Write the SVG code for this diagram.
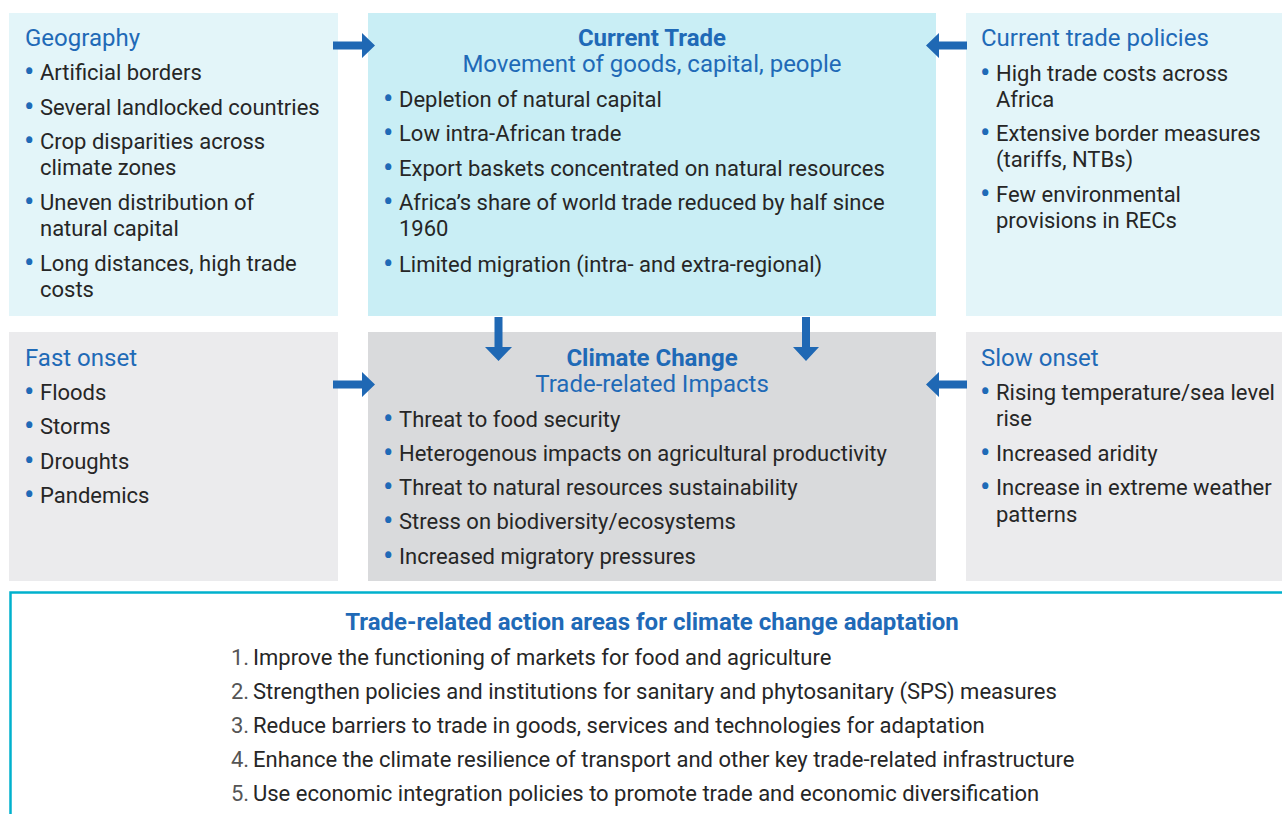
<svg xmlns="http://www.w3.org/2000/svg" width="1282" height="814" viewBox="0 0 1282 814">
<style>
text{font-family:Roboto,"Liberation Sans",sans-serif;}
.t{fill:#1f6ab7;font-size:24px;}
.tb{fill:#1f6ab7;font-size:24px;font-weight:bold;}
.b{fill:#262626;font-size:22px;}
.d{fill:#1f6ab7;font-size:31px;}
.n{fill:#3a3a3a;font-size:22px;}
.arr{fill:#1f68b4;}
</style>
<rect width="1282" height="814" fill="#ffffff"/>

<g id="geography">
<rect x="9" y="13" width="329" height="303" fill="#e3f5f9"/>
<text class="t" x="25" y="46">Geography</text>
<text class="b"><tspan class="d" x="24" y="82">•</tspan><tspan x="40" y="80">Artificial borders</tspan></text>
<text class="b"><tspan class="d" x="24" y="117">•</tspan><tspan x="40" y="115">Several landlocked countries</tspan></text>
<text class="b"><tspan class="d" x="24" y="151">•</tspan><tspan x="40" y="149">Crop disparities across</tspan><tspan x="40" y="175">climate zones</tspan></text>
<text class="b"><tspan class="d" x="24" y="212">•</tspan><tspan x="40" y="210">Uneven distribution of</tspan><tspan x="40" y="236">natural capital</tspan></text>
<text class="b"><tspan class="d" x="24" y="273">•</tspan><tspan x="40" y="271">Long distances, high trade</tspan><tspan x="40" y="297">costs</tspan></text>
</g>

<g id="current-trade">
<rect x="368" y="13" width="568" height="303" fill="#c9eef5"/>
<text class="tb" x="652" y="46" text-anchor="middle">Current Trade</text>
<text class="t" x="652" y="72" text-anchor="middle">Movement of goods, capital, people</text>
<text class="b"><tspan class="d" x="383" y="109">•</tspan><tspan x="399" y="107">Depletion of natural capital</tspan></text>
<text class="b"><tspan class="d" x="383" y="143">•</tspan><tspan x="399" y="141">Low intra-African trade</tspan></text>
<text class="b"><tspan class="d" x="383" y="178">•</tspan><tspan x="399" y="176">Export baskets concentrated on natural resources</tspan></text>
<text class="b"><tspan class="d" x="383" y="212">•</tspan><tspan x="399" y="210">Africa’s share of world trade reduced by half since</tspan><tspan x="399" y="236">1960</tspan></text>
<text class="b"><tspan class="d" x="383" y="274">•</tspan><tspan x="399" y="272">Limited migration (intra- and extra-regional)</tspan></text>
</g>

<g id="current-trade-policies">
<rect x="966" y="13" width="316" height="303" fill="#e3f5f9"/>
<text class="t" x="981" y="46">Current trade policies</text>
<text class="b"><tspan class="d" x="980" y="83">•</tspan><tspan x="996" y="81">High trade costs across</tspan><tspan x="996" y="107">Africa</tspan></text>
<text class="b"><tspan class="d" x="980" y="143">•</tspan><tspan x="996" y="141">Extensive border measures</tspan><tspan x="996" y="167">(tariffs, NTBs)</tspan></text>
<text class="b"><tspan class="d" x="980" y="204">•</tspan><tspan x="996" y="202">Few environmental</tspan><tspan x="996" y="228">provisions in RECs</tspan></text>
</g>

<g id="fast-onset">
<rect x="9" y="332" width="329" height="249" fill="#ebebed"/>
<text class="t" x="25" y="366">Fast onset</text>
<text class="b"><tspan class="d" x="24" y="402">•</tspan><tspan x="40" y="400">Floods</tspan></text>
<text class="b"><tspan class="d" x="24" y="436">•</tspan><tspan x="40" y="434">Storms</tspan></text>
<text class="b"><tspan class="d" x="24" y="471">•</tspan><tspan x="40" y="469">Droughts</tspan></text>
<text class="b"><tspan class="d" x="24" y="505">•</tspan><tspan x="40" y="503">Pandemics</tspan></text>
</g>

<g id="climate-change">
<rect x="368" y="332" width="568" height="249" fill="#d9dadc"/>
<text class="tb" x="652" y="366" text-anchor="middle">Climate Change</text>
<text class="t" x="652" y="392" text-anchor="middle">Trade-related Impacts</text>
<text class="b"><tspan class="d" x="383" y="429">•</tspan><tspan x="399" y="427">Threat to food security</tspan></text>
<text class="b"><tspan class="d" x="383" y="463">•</tspan><tspan x="399" y="461">Heterogenous impacts on agricultural productivity</tspan></text>
<text class="b"><tspan class="d" x="383" y="497">•</tspan><tspan x="399" y="495">Threat to natural resources sustainability</tspan></text>
<text class="b"><tspan class="d" x="383" y="531">•</tspan><tspan x="399" y="529">Stress on biodiversity/ecosystems</tspan></text>
<text class="b"><tspan class="d" x="383" y="566">•</tspan><tspan x="399" y="564">Increased migratory pressures</tspan></text>
</g>

<g id="slow-onset">
<rect x="966" y="332" width="316" height="249" fill="#ebebed"/>
<text class="t" x="981" y="366">Slow onset</text>
<text class="b"><tspan class="d" x="980" y="402">•</tspan><tspan x="996" y="400">Rising temperature/sea level</tspan><tspan x="996" y="426">rise</tspan></text>
<text class="b"><tspan class="d" x="980" y="463">•</tspan><tspan x="996" y="461">Increased aridity</tspan></text>
<text class="b"><tspan class="d" x="980" y="497">•</tspan><tspan x="996" y="495">Increase in extreme weather</tspan><tspan x="996" y="522">patterns</tspan></text>
</g>

<g id="action-areas">
<rect x="10.5" y="592.5" width="1290" height="240" fill="#ffffff" stroke="#00b1cd" stroke-width="2.5"/>
<text class="tb" x="652" y="630" text-anchor="middle">Trade-related action areas for climate change adaptation</text>
<text class="n"><tspan x="231" y="665" fill="#555">1.</tspan><tspan x="253" y="665" fill="#262626">Improve the functioning of markets for food and agriculture</tspan></text>
<text class="n"><tspan x="231" y="699" fill="#555">2.</tspan><tspan x="253" y="699" fill="#262626">Strengthen policies and institutions for sanitary and phytosanitary (SPS) measures</tspan></text>
<text class="n"><tspan x="231" y="733" fill="#555">3.</tspan><tspan x="253" y="733" fill="#262626">Reduce barriers to trade in goods, services and technologies for adaptation</tspan></text>
<text class="n"><tspan x="231" y="767" fill="#555">4.</tspan><tspan x="253" y="767" fill="#262626">Enhance the climate resilience of transport and other key trade-related infrastructure</tspan></text>
<text class="n"><tspan x="231" y="801" fill="#555">5.</tspan><tspan x="253" y="801" fill="#262626">Use economic integration policies to promote trade and economic diversification</tspan></text>
</g>

<g id="connectors">
<polygon class="arr" points="333,41.5 362,41.5 362,33 375,45.5 362,58 362,49.5 333,49.5"/>
<polygon class="arr" points="967,41.5 939,41.5 939,33 926,45.5 939,58 939,49.5 967,49.5"/>
<polygon class="arr" points="333,380.5 362,380.5 362,372 375,384.5 362,397 362,388.5 333,388.5"/>
<polygon class="arr" points="967,380.5 939,380.5 939,372 926,384.5 939,397 939,388.5 967,388.5"/>
<polygon class="arr" points="494.5,317 502.5,317 502.5,347 512,347 498.5,361 485,347 494.5,347"/>
<polygon class="arr" points="802,317 810,317 810,347 819,347 806,361 793,347 802,347"/>
</g>
</svg>
